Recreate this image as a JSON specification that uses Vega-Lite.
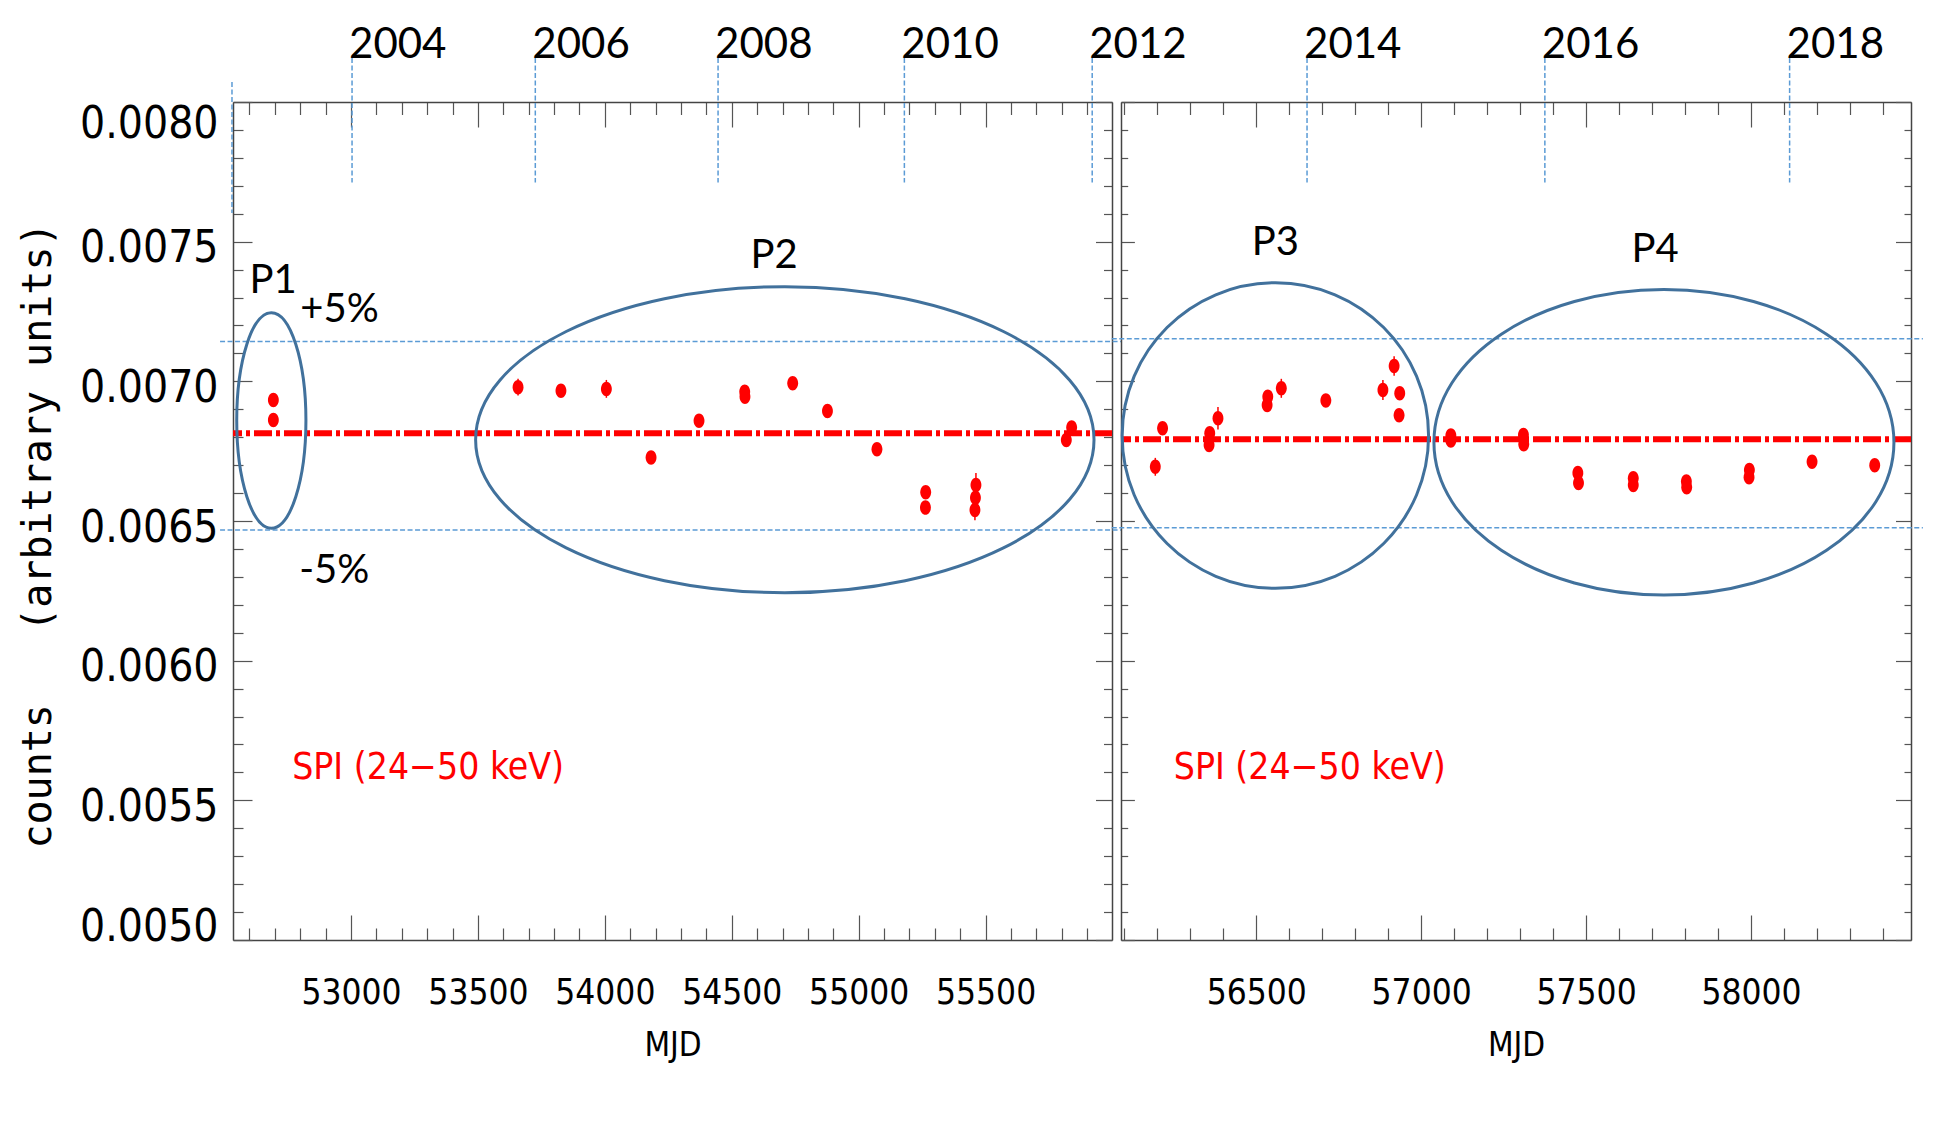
{
  "$schema": "https://vega.github.io/schema/vega-lite/v6.json",
  "background": "white",
  "padding": {"left": 18, "top": 24, "right": 5, "bottom": 5},
  "config": {
    "view": {"stroke": null},
    "axis": {"grid": false, "domainColor": "#444", "domainWidth": 1.5, "tickColor": "#555", "tickWidth": 1.2, "labelColor": "#000", "labelFont": "DejaVu Sans Condensed, Liberation Sans", "titleColor": "#000", "titleFontWeight": "normal"}
  },
  "datasets": {
    "pts": [
      {"panel": "L", "mjd": 52694, "val": 0.006933, "lo": 0.006913, "hi": 0.006953},
      {"panel": "L", "mjd": 52694, "val": 0.006862, "lo": 0.006842, "hi": 0.006882},
      {"panel": "L", "mjd": 53658, "val": 0.006979, "lo": 0.006949, "hi": 0.007009},
      {"panel": "L", "mjd": 53827, "val": 0.006966, "lo": 0.006946, "hi": 0.006986},
      {"panel": "L", "mjd": 54006, "val": 0.006973, "lo": 0.006941, "hi": 0.007005},
      {"panel": "L", "mjd": 54182, "val": 0.006727, "lo": 0.006707, "hi": 0.006747},
      {"panel": "L", "mjd": 54371, "val": 0.006859, "lo": 0.006839, "hi": 0.006879},
      {"panel": "L", "mjd": 54551, "val": 0.006963, "lo": 0.006943, "hi": 0.006983},
      {"panel": "L", "mjd": 54552, "val": 0.006945, "lo": 0.006925, "hi": 0.006965},
      {"panel": "L", "mjd": 54740, "val": 0.006993, "lo": 0.006973, "hi": 0.007013},
      {"panel": "L", "mjd": 54877, "val": 0.006894, "lo": 0.006874, "hi": 0.006914},
      {"panel": "L", "mjd": 55072, "val": 0.006757, "lo": 0.006737, "hi": 0.006777},
      {"panel": "L", "mjd": 55264, "val": 0.006603, "lo": 0.006583, "hi": 0.006623},
      {"panel": "L", "mjd": 55263, "val": 0.006548, "lo": 0.006528, "hi": 0.006568},
      {"panel": "L", "mjd": 55462, "val": 0.006629, "lo": 0.006586, "hi": 0.006672},
      {"panel": "L", "mjd": 55460, "val": 0.006583, "lo": 0.006563, "hi": 0.006603},
      {"panel": "L", "mjd": 55458, "val": 0.006539, "lo": 0.006503, "hi": 0.006575},
      {"panel": "L", "mjd": 55818, "val": 0.006790, "lo": 0.006770, "hi": 0.006810},
      {"panel": "L", "mjd": 55839, "val": 0.006835, "lo": 0.006815, "hi": 0.006855},
      {"panel": "R", "mjd": 56194, "val": 0.006694, "lo": 0.006662, "hi": 0.006726},
      {"panel": "R", "mjd": 56216, "val": 0.006832, "lo": 0.006812, "hi": 0.006852},
      {"panel": "R", "mjd": 56357, "val": 0.006772, "lo": 0.006747, "hi": 0.006797},
      {"panel": "R", "mjd": 56359, "val": 0.006814, "lo": 0.006794, "hi": 0.006834},
      {"panel": "R", "mjd": 56384, "val": 0.006868, "lo": 0.006828, "hi": 0.006908},
      {"panel": "R", "mjd": 56533, "val": 0.006915, "lo": 0.006895, "hi": 0.006935},
      {"panel": "R", "mjd": 56535, "val": 0.006945, "lo": 0.006925, "hi": 0.006965},
      {"panel": "R", "mjd": 56576, "val": 0.006975, "lo": 0.006941, "hi": 0.007009},
      {"panel": "R", "mjd": 56711, "val": 0.006931, "lo": 0.006911, "hi": 0.006951},
      {"panel": "R", "mjd": 56884, "val": 0.006969, "lo": 0.006933, "hi": 0.007005},
      {"panel": "R", "mjd": 56918, "val": 0.007055, "lo": 0.007020, "hi": 0.007090},
      {"panel": "R", "mjd": 56935, "val": 0.006957, "lo": 0.006937, "hi": 0.006977},
      {"panel": "R", "mjd": 56933, "val": 0.006879, "lo": 0.006859, "hi": 0.006899},
      {"panel": "R", "mjd": 57090, "val": 0.006806, "lo": 0.006786, "hi": 0.006826},
      {"panel": "R", "mjd": 57090, "val": 0.006788, "lo": 0.006768, "hi": 0.006808},
      {"panel": "R", "mjd": 57310, "val": 0.006808, "lo": 0.006788, "hi": 0.006828},
      {"panel": "R", "mjd": 57311, "val": 0.006775, "lo": 0.006755, "hi": 0.006795},
      {"panel": "R", "mjd": 57475, "val": 0.006672, "lo": 0.006652, "hi": 0.006692},
      {"panel": "R", "mjd": 57477, "val": 0.006636, "lo": 0.006616, "hi": 0.006656},
      {"panel": "R", "mjd": 57643, "val": 0.006653, "lo": 0.006633, "hi": 0.006673},
      {"panel": "R", "mjd": 57643, "val": 0.006629, "lo": 0.006609, "hi": 0.006649},
      {"panel": "R", "mjd": 57804, "val": 0.006641, "lo": 0.006621, "hi": 0.006661},
      {"panel": "R", "mjd": 57805, "val": 0.006621, "lo": 0.006601, "hi": 0.006641},
      {"panel": "R", "mjd": 57995, "val": 0.006683, "lo": 0.006663, "hi": 0.006703},
      {"panel": "R", "mjd": 57994, "val": 0.006657, "lo": 0.006637, "hi": 0.006677},
      {"panel": "R", "mjd": 58185, "val": 0.006712, "lo": 0.006692, "hi": 0.006732},
      {"panel": "R", "mjd": 58375, "val": 0.006700, "lo": 0.006680, "hi": 0.006720}
    ],
    "means": [{"panel": "L", "val": 0.006814}, {"panel": "R", "val": 0.006793}],
    "bands": [
      {"panel": "L", "val": 0.007143}, {"panel": "L", "val": 0.006468},
      {"panel": "R", "val": 0.007152}, {"panel": "R", "val": 0.006476}
    ],
    "rings": [
      {"ring": "P1", "mjd": 52686, "val": 0.006860},
      {"ring": "P2", "mjd": 54709, "val": 0.006791},
      {"ring": "P3", "mjd": 56558, "val": 0.006806},
      {"ring": "P4", "mjd": 57736, "val": 0.006782}
    ],
    "notes": [
      {"panel": "L", "mjd": 52693, "val": 0.007316, "label": "P1"},
      {"panel": "L", "mjd": 54667, "val": 0.007406, "label": "P2"},
      {"panel": "R", "mjd": 56558, "val": 0.007452, "label": "P3"},
      {"panel": "R", "mjd": 57709, "val": 0.007427, "label": "P4"}
    ],
    "pct": [
      {"panel": "L", "mjd": 52800, "val": 0.007212, "label": "+5%"},
      {"panel": "L", "mjd": 52796, "val": 0.006278, "label": "-5%"}
    ],
    "spi": [
      {"panel": "L", "mjd": 52768, "val": 0.005576, "label": "SPI (24−50 keV)"},
      {"panel": "R", "mjd": 56250, "val": 0.005576, "label": "SPI (24−50 keV)"}
    ],
    "years": [
      {"panel": "L", "mjd": 53004, "year": "2004"},
      {"panel": "L", "mjd": 53726, "year": "2006"},
      {"panel": "L", "mjd": 54446, "year": "2008"},
      {"panel": "L", "mjd": 55180, "year": "2010"},
      {"panel": "L", "mjd": 55920, "year": "2012"},
      {"panel": "R", "mjd": 56654, "year": "2014"},
      {"panel": "R", "mjd": 57375, "year": "2016"},
      {"panel": "R", "mjd": 58117, "year": "2018"}
    ],
    "edge": [{"panel": "L", "mjd": 52531}]
  },
  "bounds": "flush",
  "spacing": 9,
  "hconcat": [
    {
      "width": 879,
      "height": 838,
      "resolve": {"axis": {"x": "independent", "y": "independent"}},
      "layer": [
        {
          "data": {"name": "bands"},
          "transform": [{"filter": "datum.panel === 'L'"}],
          "mark": {"type": "rule", "color": "#5B9BD5", "strokeWidth": 1.5, "strokeDash": [5, 2.5]},
          "encoding": {
            "x": {"datum": 52484, "type": "quantitative", "scale": {"domain": [52535, 55998], "nice": false, "zero": false}, "axis": null},
            "x2": {"datum": 56033},
            "y": {"field": "val", "type": "quantitative", "scale": {"domain": [0.005, 0.008], "nice": false, "zero": false}, "axis": null}
          }
        },
        {
          "data": {"name": "means"},
          "transform": [{"filter": "datum.panel === 'L'"}],
          "mark": {"type": "rule", "color": "#FF0000", "strokeWidth": 6, "strokeDash": [18, 4, 4, 4]},
          "encoding": {
            "y": {"field": "val", "type": "quantitative", "scale": {"domain": [0.005, 0.008], "nice": false, "zero": false}, "axis": null}
          }
        },
        {
          "data": {"name": "rings"},
          "transform": [{"filter": "datum.ring === 'P1'"}],
          "mark": {"type": "point", "shape": "M0.321,0 C0.321,0.5523 0.1773,1 0,1 C-0.1773,1 -0.321,0.5523 -0.321,0 C-0.321,-0.5523 -0.1773,-1 0,-1 C0.1773,-1 0.321,-0.5523 0.321,0 Z", "size": 46483, "filled": false, "color": "#41719C", "strokeWidth": 3, "opacity": 1},
          "encoding": {
            "x": {"field": "mjd", "type": "quantitative", "scale": {"domain": [52535, 55998], "nice": false, "zero": false},
              "axis": {"orient": "top", "values": [52600,52700,52800,52900,53000,53100,53200,53300,53400,53500,53600,53700,53800,53900,54000,54100,54200,54300,54400,54500,54600,54700,54800,54900,55000,55100,55200,55300,55400,55500,55600,55700,55800,55900],
                "tickSize": {"condition": {"test": "datum.value % 500 === 0", "value": -25}, "value": -12.5}, "labels": false, "title": null}},
            "y": {"field": "val", "type": "quantitative", "scale": {"domain": [0.005, 0.008], "nice": false, "zero": false},
              "axis": {"orient": "right", "values": [0.005,0.0051,0.0052,0.0053,0.0054,0.0055,0.0056,0.0057,0.0058,0.0059,0.006,0.0061,0.0062,0.0063,0.0064,0.0065,0.0066,0.0067,0.0068,0.0069,0.007,0.0071,0.0072,0.0073,0.0074,0.0075,0.0076,0.0077,0.0078,0.0079,0.008],
                "tickSize": {"condition": {"test": "round(datum.value*10000) % 5 === 0", "value": -16.5}, "value": -8.5}, "labels": false, "title": null}}
          }
        },
        {
          "data": {"name": "rings"},
          "transform": [{"filter": "datum.ring === 'P2'"}],
          "mark": {"type": "point", "shape": "M1,0 C1,0.2733 0.5523,0.4948 0,0.4948 C-0.5523,0.4948 -1,0.2733 -1,0 C-1,-0.2733 -0.5523,-0.4948 0,-0.4948 C0.5523,-0.4948 1,-0.2733 1,0 Z", "size": 382419, "filled": false, "color": "#41719C", "strokeWidth": 3, "opacity": 1},
          "encoding": {
            "x": {"field": "mjd", "type": "quantitative", "scale": {"domain": [52535, 55998], "nice": false, "zero": false}, "axis": null},
            "y": {"field": "val", "type": "quantitative", "scale": {"domain": [0.005, 0.008], "nice": false, "zero": false}, "axis": null}
          }
        },
        {
          "data": {"name": "pts"},
          "transform": [{"filter": "datum.panel === 'L'"}],
          "mark": {"type": "rule", "color": "#FF0000", "strokeWidth": 1.5},
          "encoding": {
            "x": {"field": "mjd", "type": "quantitative", "scale": {"domain": [52535, 55998], "nice": false, "zero": false}, "axis": null},
            "y": {"field": "lo", "type": "quantitative", "scale": {"domain": [0.005, 0.008], "nice": false, "zero": false}, "axis": null},
            "y2": {"field": "hi"}
          }
        },
        {
          "data": {"name": "pts"},
          "transform": [{"filter": "datum.panel === 'L'"}],
          "mark": {"type": "point", "shape": "M0.75,0 C0.75,0.5523 0.4142,1 0,1 C-0.4142,1 -0.75,0.5523 -0.75,0 C-0.75,-0.5523 -0.4142,-1 0,-1 C0.4142,-1 0.75,-0.5523 0.75,0 Z", "size": 210, "filled": true, "color": "#FF0000", "opacity": 1, "strokeWidth": 0},
          "encoding": {
            "x": {"field": "mjd", "type": "quantitative", "scale": {"domain": [52535, 55998], "nice": false, "zero": false},
              "axis": {"orient": "bottom", "values": [52600,52700,52800,52900,53000,53100,53200,53300,53400,53500,53600,53700,53800,53900,54000,54100,54200,54300,54400,54500,54600,54700,54800,54900,55000,55100,55200,55300,55400,55500,55600,55700,55800,55900],
                "tickSize": {"condition": {"test": "datum.value % 500 === 0", "value": -25}, "value": -12},
                "labelExpr": "datum.value % 500 === 0 ? '' + datum.value : ''",
                "labelPadding": 88, "labelBaseline": "alphabetic", "labelFontSize": 35, "labelFlush": false, "labelOverlap": false, "labelBound": false,
                "title": "MJD", "titleFont": "DejaVu Sans Condensed, Liberation Sans", "titleFontSize": 33, "titleX": 439.5, "titleY": 115, "titleBaseline": "alphabetic", "titleAlign": "center"}},
            "y": {"field": "val", "type": "quantitative", "scale": {"domain": [0.005, 0.008], "nice": false, "zero": false},
              "axis": {"orient": "left", "values": [0.005,0.0051,0.0052,0.0053,0.0054,0.0055,0.0056,0.0057,0.0058,0.0059,0.006,0.0061,0.0062,0.0063,0.0064,0.0065,0.0066,0.0067,0.0068,0.0069,0.007,0.0071,0.0072,0.0073,0.0074,0.0075,0.0076,0.0077,0.0078,0.0079,0.008],
                "tickSize": {"condition": {"test": "round(datum.value*10000) % 5 === 0", "value": -19}, "value": -10},
                "labelExpr": "round(datum.value*10000) % 5 === 0 ? format(datum.value, '.4f') : ''",
                "labelPadding": 34, "labelBaseline": "alphabetic",
                "labelOffset": {"condition": [{"test": "datum.value > 0.00795", "value": 35}, {"test": "datum.value < 0.00505", "value": 0}], "value": 20},
                "labelFontSize": 44, "labelFlush": false, "labelOverlap": false, "labelBound": false,
                "title": "counts\u00a0\u00a0\u00a0(arbitrary units)", "titleFont": "DejaVu Sans Mono", "titleFontSize": 40, "titleX": -183, "titleY": 433, "titleBaseline": "alphabetic", "titleAngle": 270, "titleAlign": "center"}}
          }
        },
        {
          "data": {"name": "notes"},
          "transform": [{"filter": "datum.panel === 'L'"}],
          "mark": {"type": "text", "font": "Lato", "fontSize": 40, "color": "#000", "align": "center", "baseline": "alphabetic"},
          "encoding": {
            "x": {"field": "mjd", "type": "quantitative", "scale": {"domain": [52535, 55998], "nice": false, "zero": false}, "axis": null},
            "y": {"field": "val", "type": "quantitative", "scale": {"domain": [0.005, 0.008], "nice": false, "zero": false}, "axis": null},
            "text": {"field": "label"}
          }
        },
        {
          "data": {"name": "pct"},
          "mark": {"type": "text", "font": "Lato", "fontSize": 40, "color": "#000", "align": "left", "baseline": "alphabetic"},
          "encoding": {
            "x": {"field": "mjd", "type": "quantitative", "scale": {"domain": [52535, 55998], "nice": false, "zero": false}, "axis": null},
            "y": {"field": "val", "type": "quantitative", "scale": {"domain": [0.005, 0.008], "nice": false, "zero": false}, "axis": null},
            "text": {"field": "label"}
          }
        },
        {
          "data": {"name": "spi"},
          "transform": [{"filter": "datum.panel === 'L'"}],
          "mark": {"type": "text", "font": "DejaVu Sans Condensed, Liberation Sans", "fontSize": 37, "color": "#FF0000", "align": "left", "baseline": "alphabetic"},
          "encoding": {
            "x": {"field": "mjd", "type": "quantitative", "scale": {"domain": [52535, 55998], "nice": false, "zero": false}, "axis": null},
            "y": {"field": "val", "type": "quantitative", "scale": {"domain": [0.005, 0.008], "nice": false, "zero": false}, "axis": null},
            "text": {"field": "label"}
          }
        },
        {
          "data": {"name": "years"},
          "transform": [{"filter": "datum.panel === 'L'"}],
          "mark": {"type": "rule", "color": "#5B9BD5", "strokeWidth": 1.5, "strokeDash": [5, 2.5]},
          "encoding": {
            "x": {"field": "mjd", "type": "quantitative", "scale": {"domain": [52535, 55998], "nice": false, "zero": false}, "axis": null},
            "y": {"datum": 0.0081575, "type": "quantitative", "scale": {"domain": [0.005, 0.008], "nice": false, "zero": false}, "axis": null},
            "y2": {"datum": 0.007712}
          }
        },
        {
          "data": {"name": "edge"},
          "mark": {"type": "rule", "color": "#5B9BD5", "strokeWidth": 1.5, "strokeDash": [5, 2.5]},
          "encoding": {
            "x": {"field": "mjd", "type": "quantitative", "scale": {"domain": [52535, 55998], "nice": false, "zero": false}, "axis": null},
            "y": {"datum": 0.008072, "type": "quantitative", "scale": {"domain": [0.005, 0.008], "nice": false, "zero": false}, "axis": null},
            "y2": {"datum": 0.007603}
          }
        },
        {
          "data": {"name": "years"},
          "transform": [{"filter": "datum.panel === 'L'"}],
          "mark": {"type": "text", "font": "Lato", "fontSize": 42, "color": "#000", "align": "left", "baseline": "alphabetic", "dx": -3},
          "encoding": {
            "x": {"field": "mjd", "type": "quantitative", "scale": {"domain": [52535, 55998], "nice": false, "zero": false}, "axis": null},
            "y": {"datum": 0.0081575, "type": "quantitative", "scale": {"domain": [0.005, 0.008], "nice": false, "zero": false}, "axis": null},
            "text": {"field": "year"}
          }
        }
      ]
    },
    {
      "width": 790,
      "height": 838,
      "resolve": {"axis": {"x": "independent", "y": "independent"}},
      "layer": [
        {
          "data": {"name": "bands"},
          "transform": [{"filter": "datum.panel === 'R'"}],
          "mark": {"type": "rule", "color": "#5B9BD5", "strokeWidth": 1.5, "strokeDash": [5, 2.5]},
          "encoding": {
            "x": {"datum": 56062, "type": "quantitative", "scale": {"domain": [56090, 58485], "nice": false, "zero": false}, "axis": null},
            "x2": {"datum": 58521},
            "y": {"field": "val", "type": "quantitative", "scale": {"domain": [0.005, 0.008], "nice": false, "zero": false}, "axis": null}
          }
        },
        {
          "data": {"name": "means"},
          "transform": [{"filter": "datum.panel === 'R'"}],
          "mark": {"type": "rule", "color": "#FF0000", "strokeWidth": 6, "strokeDash": [18, 4, 4, 4]},
          "encoding": {
            "y": {"field": "val", "type": "quantitative", "scale": {"domain": [0.005, 0.008], "nice": false, "zero": false}, "axis": null}
          }
        },
        {
          "data": {"name": "rings"},
          "transform": [{"filter": "datum.ring === 'P3'"}],
          "mark": {"type": "point", "shape": "M1,0 C1,0.5507 0.5523,0.997 0,0.997 C-0.5523,0.997 -1,0.5507 -1,0 C-1,-0.5507 -0.5523,-0.997 0,-0.997 C0.5523,-0.997 1,-0.5507 1,0 Z", "size": 93881, "filled": false, "color": "#41719C", "strokeWidth": 3, "opacity": 1},
          "encoding": {
            "x": {"field": "mjd", "type": "quantitative", "scale": {"domain": [56090, 58485], "nice": false, "zero": false},
              "axis": {"orient": "top", "values": [56100,56200,56300,56400,56500,56600,56700,56800,56900,57000,57100,57200,57300,57400,57500,57600,57700,57800,57900,58000,58100,58200,58300,58400],
                "tickSize": {"condition": {"test": "datum.value % 500 === 0", "value": -25}, "value": -12.5}, "labels": false, "title": null}},
            "y": {"field": "val", "type": "quantitative", "scale": {"domain": [0.005, 0.008], "nice": false, "zero": false},
              "axis": {"orient": "right", "values": [0.005,0.0051,0.0052,0.0053,0.0054,0.0055,0.0056,0.0057,0.0058,0.0059,0.006,0.0061,0.0062,0.0063,0.0064,0.0065,0.0066,0.0067,0.0068,0.0069,0.007,0.0071,0.0072,0.0073,0.0074,0.0075,0.0076,0.0077,0.0078,0.0079,0.008],
                "tickSize": {"condition": {"test": "round(datum.value*10000) % 5 === 0", "value": -15.5}, "value": -7}, "labels": false, "title": null}}
          }
        },
        {
          "data": {"name": "rings"},
          "transform": [{"filter": "datum.ring === 'P4'"}],
          "mark": {"type": "point", "shape": "M1,0 C1,0.3669 0.5523,0.6643 0,0.6643 C-0.5523,0.6643 -1,0.3669 -1,0 C-1,-0.3669 -0.5523,-0.6643 0,-0.6643 C0.5523,-0.6643 1,-0.3669 1,0 Z", "size": 211600, "filled": false, "color": "#41719C", "strokeWidth": 3, "opacity": 1},
          "encoding": {
            "x": {"field": "mjd", "type": "quantitative", "scale": {"domain": [56090, 58485], "nice": false, "zero": false}, "axis": null},
            "y": {"field": "val", "type": "quantitative", "scale": {"domain": [0.005, 0.008], "nice": false, "zero": false}, "axis": null}
          }
        },
        {
          "data": {"name": "pts"},
          "transform": [{"filter": "datum.panel === 'R'"}],
          "mark": {"type": "rule", "color": "#FF0000", "strokeWidth": 1.5},
          "encoding": {
            "x": {"field": "mjd", "type": "quantitative", "scale": {"domain": [56090, 58485], "nice": false, "zero": false}, "axis": null},
            "y": {"field": "lo", "type": "quantitative", "scale": {"domain": [0.005, 0.008], "nice": false, "zero": false}, "axis": null},
            "y2": {"field": "hi"}
          }
        },
        {
          "data": {"name": "pts"},
          "transform": [{"filter": "datum.panel === 'R'"}],
          "mark": {"type": "point", "shape": "M0.75,0 C0.75,0.5523 0.4142,1 0,1 C-0.4142,1 -0.75,0.5523 -0.75,0 C-0.75,-0.5523 -0.4142,-1 0,-1 C0.4142,-1 0.75,-0.5523 0.75,0 Z", "size": 210, "filled": true, "color": "#FF0000", "opacity": 1, "strokeWidth": 0},
          "encoding": {
            "x": {"field": "mjd", "type": "quantitative", "scale": {"domain": [56090, 58485], "nice": false, "zero": false},
              "axis": {"orient": "bottom", "values": [56100,56200,56300,56400,56500,56600,56700,56800,56900,57000,57100,57200,57300,57400,57500,57600,57700,57800,57900,58000,58100,58200,58300,58400],
                "tickSize": {"condition": {"test": "datum.value % 500 === 0", "value": -25}, "value": -12},
                "labelExpr": "datum.value % 500 === 0 ? '' + datum.value : ''",
                "labelPadding": 88, "labelBaseline": "alphabetic", "labelFontSize": 35, "labelFlush": false, "labelOverlap": false, "labelBound": false,
                "title": "MJD", "titleFont": "DejaVu Sans Condensed, Liberation Sans", "titleFontSize": 33, "titleX": 395, "titleY": 115, "titleBaseline": "alphabetic", "titleAlign": "center"}},
            "y": {"field": "val", "type": "quantitative", "scale": {"domain": [0.005, 0.008], "nice": false, "zero": false},
              "axis": {"orient": "left", "values": [0.005,0.0051,0.0052,0.0053,0.0054,0.0055,0.0056,0.0057,0.0058,0.0059,0.006,0.0061,0.0062,0.0063,0.0064,0.0065,0.0066,0.0067,0.0068,0.0069,0.007,0.0071,0.0072,0.0073,0.0074,0.0075,0.0076,0.0077,0.0078,0.0079,0.008],
                "tickSize": {"condition": {"test": "round(datum.value*10000) % 5 === 0", "value": -13.4}, "value": -6.7}, "labels": false, "title": null}}
          }
        },
        {
          "data": {"name": "notes"},
          "transform": [{"filter": "datum.panel === 'R'"}],
          "mark": {"type": "text", "font": "Lato", "fontSize": 40, "color": "#000", "align": "center", "baseline": "alphabetic"},
          "encoding": {
            "x": {"field": "mjd", "type": "quantitative", "scale": {"domain": [56090, 58485], "nice": false, "zero": false}, "axis": null},
            "y": {"field": "val", "type": "quantitative", "scale": {"domain": [0.005, 0.008], "nice": false, "zero": false}, "axis": null},
            "text": {"field": "label"}
          }
        },
        {
          "data": {"name": "spi"},
          "transform": [{"filter": "datum.panel === 'R'"}],
          "mark": {"type": "text", "font": "DejaVu Sans Condensed, Liberation Sans", "fontSize": 37, "color": "#FF0000", "align": "left", "baseline": "alphabetic"},
          "encoding": {
            "x": {"field": "mjd", "type": "quantitative", "scale": {"domain": [56090, 58485], "nice": false, "zero": false}, "axis": null},
            "y": {"field": "val", "type": "quantitative", "scale": {"domain": [0.005, 0.008], "nice": false, "zero": false}, "axis": null},
            "text": {"field": "label"}
          }
        },
        {
          "data": {"name": "years"},
          "transform": [{"filter": "datum.panel === 'R'"}],
          "mark": {"type": "rule", "color": "#5B9BD5", "strokeWidth": 1.5, "strokeDash": [5, 2.5]},
          "encoding": {
            "x": {"field": "mjd", "type": "quantitative", "scale": {"domain": [56090, 58485], "nice": false, "zero": false}, "axis": null},
            "y": {"datum": 0.0081575, "type": "quantitative", "scale": {"domain": [0.005, 0.008], "nice": false, "zero": false}, "axis": null},
            "y2": {"datum": 0.007712}
          }
        },
        {
          "data": {"name": "years"},
          "transform": [{"filter": "datum.panel === 'R'"}],
          "mark": {"type": "text", "font": "Lato", "fontSize": 42, "color": "#000", "align": "left", "baseline": "alphabetic", "dx": -3},
          "encoding": {
            "x": {"field": "mjd", "type": "quantitative", "scale": {"domain": [56090, 58485], "nice": false, "zero": false}, "axis": null},
            "y": {"datum": 0.0081575, "type": "quantitative", "scale": {"domain": [0.005, 0.008], "nice": false, "zero": false}, "axis": null},
            "text": {"field": "year"}
          }
        }
      ]
    }
  ]
}
